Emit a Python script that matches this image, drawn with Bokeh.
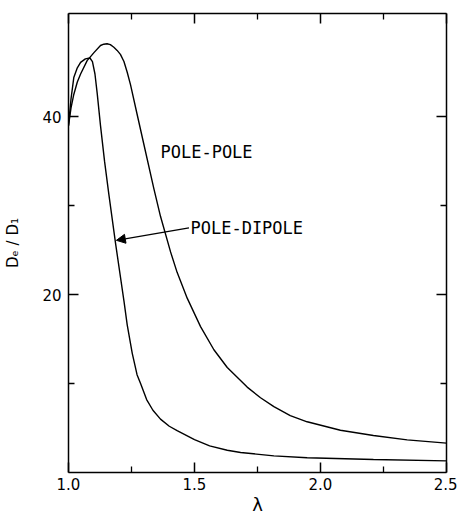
from bokeh.plotting import figure
from bokeh.models import (Range1d, FixedTicker, LinearAxis, CustomJSTickFormatter,
                          Arrow, NormalHead, Label)
from bokeh.embed import file_html
from bokeh.resources import INLINE

# pole-pole curve
lam_pp = [1.000, 1.010, 1.021, 1.035, 1.048, 1.074, 1.101, 1.127, 1.140, 1.153,
          1.166, 1.180, 1.193, 1.206, 1.220, 1.233, 1.246, 1.272, 1.299, 1.338,
          1.365, 1.405, 1.431, 1.471, 1.524, 1.577, 1.630, 1.709, 1.762, 1.815,
          1.880, 1.947, 2.079, 2.210, 2.344, 2.500]
de_pp = [39.0, 41.0, 42.5, 43.9, 44.8, 46.3, 47.2, 48.0, 48.15, 48.2,
         48.1, 47.8, 47.45, 47.0, 46.2, 45.0, 43.6, 40.3, 36.9, 32.0,
         28.8, 24.8, 22.5, 19.6, 16.4, 13.8, 11.8, 9.6, 8.4, 7.4,
         6.4, 5.7, 4.75, 4.16, 3.67, 3.3]

# pole-dipole curve
lam_pd = [1.000, 1.010, 1.021, 1.035, 1.048, 1.067, 1.085, 1.095, 1.105, 1.114,
          1.127, 1.143, 1.160, 1.187, 1.220, 1.233, 1.253, 1.272, 1.286, 1.310,
          1.335, 1.365, 1.400, 1.431, 1.500, 1.560, 1.630, 1.683, 1.815, 1.947,
          2.210, 2.500]
de_pd = [39.0, 42.0, 44.4, 45.5, 46.1, 46.5, 46.6, 46.2, 44.8, 42.6,
         39.0, 35.0, 31.3, 25.7, 19.3, 16.6, 13.4, 11.0, 10.0, 8.2,
         7.0, 6.0, 5.2, 4.7, 3.7, 3.0, 2.5, 2.25, 1.87, 1.65,
         1.46, 1.31]

x_major = [1.0, 1.5, 2.0, 2.5]
x_minor = [1.25, 1.75, 2.25]
x_labels = ["1.0", "1.5", "2.0", "2.5"]
y_major = [20, 40]
y_minor = [10, 30]
y_labels = ["20", "40"]

p = figure(width=457, height=517, output_backend="svg", toolbar_location=None,
           x_range=Range1d(1.0, 2.5), y_range=Range1d(0, 51.6),
           min_border_left=68, min_border_right=11, min_border_top=13, min_border_bottom=45)
p.grid.visible = False
p.outline_line_color = None
p.background_fill_color = "white"
p.border_fill_color = "white"

p.line(lam_pp, de_pp, line_color="black", line_width=1.4)
p.line(lam_pd, de_pd, line_color="black", line_width=1.4)

def style(ax):
    ax.axis_line_color = "black"
    ax.axis_line_width = 1.5
    ax.major_tick_in = 10
    ax.major_tick_out = 0
    ax.minor_tick_in = 6
    ax.minor_tick_out = 0
    ax.major_tick_line_color = "black"
    ax.minor_tick_line_color = "black"
    ax.major_tick_line_width = 1.5
    ax.minor_tick_line_width = 1.3

xa = p.xaxis[0]
xa.ticker = FixedTicker(ticks=x_major, minor_ticks=x_minor)
xa.major_label_overrides = dict(zip(x_major, x_labels))
xa.major_label_text_font = "DejaVu Sans"
xa.major_label_text_font_size = "15px"
xa.major_label_text_color = "black"
xa.major_label_standoff = 5
xa.axis_label = "λ"
xa.axis_label_text_font = "DejaVu Sans"
xa.axis_label_text_font_size = "18px"
xa.axis_label_text_font_style = "normal"
xa.axis_label_text_color = "black"
xa.axis_label_standoff = 1
style(xa)

ya = p.yaxis[0]
ya.ticker = FixedTicker(ticks=y_major, minor_ticks=y_minor)
ya.major_label_overrides = dict(zip(y_major, y_labels))
ya.major_label_text_font = "DejaVu Sans"
ya.major_label_text_font_size = "15px"
ya.major_label_text_color = "black"
ya.major_label_standoff = 7
ya.axis_label = "Dₑ / D₁"
ya.axis_label_text_font = "DejaVu Sans"
ya.axis_label_text_font_size = "15px"
ya.axis_label_text_font_style = "normal"
ya.axis_label_text_color = "black"
ya.axis_label_standoff = 17
style(ya)

blank = "return ''"
ra = LinearAxis(ticker=FixedTicker(ticks=y_major, minor_ticks=y_minor),
                formatter=CustomJSTickFormatter(code=blank), major_label_standoff=0)
style(ra)
p.add_layout(ra, "right")

ta = LinearAxis(ticker=FixedTicker(ticks=x_major, minor_ticks=x_minor),
                formatter=CustomJSTickFormatter(code=blank), major_label_standoff=0)
style(ta)
p.add_layout(ta, "above")

p.add_layout(Label(x=1.365, y=36.0, text="POLE-POLE", text_baseline="middle",
                   text_font="DejaVu Sans Mono", text_font_size="17px", text_color="black"))
p.add_layout(Label(x=1.484, y=27.5, text="POLE-DIPOLE", text_baseline="middle",
                   text_font="DejaVu Sans Mono", text_font_size="17px", text_color="black"))
p.add_layout(Arrow(x_start=1.478, y_start=27.5, x_end=1.19, y_end=26.1,
                   line_color="black", line_width=1.2,
                   end=NormalHead(size=9, fill_color="black", line_color="black")))

open("out.html", "w").write(file_html(p, INLINE))
